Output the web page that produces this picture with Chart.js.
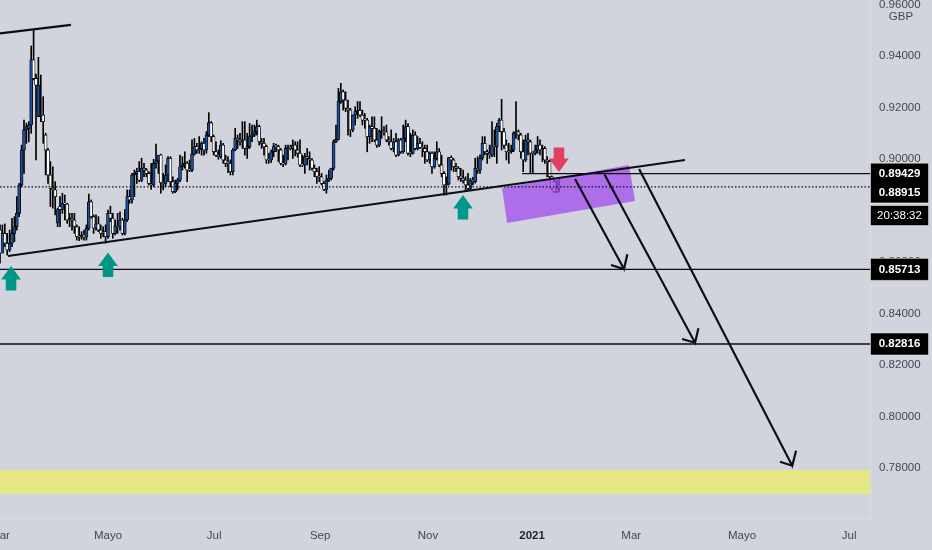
<!DOCTYPE html>
<html>
<head>
<meta charset="utf-8">
<title>GBP</title>
<script src="https://cdn.jsdelivr.net/npm/chart.js@4/dist/chart.umd.min.js"></script>
<style>
  html, body { margin: 0; padding: 0; background: #d1d4dc; overflow: hidden; }
  canvas { display: block; }
</style>
</head>
<body>
<canvas id="priceChart" width="932" height="550"></canvas>
<script>
// Daily candles, one value per bar
const opens = [
  .8724,.8634,.8711,.8673,.8647,.8673,.8711,.8737,.8789,.8899,
  .9035,.9113,.9119,.9132,.9385,.9313,.9164,.9164,.9171,.9093,
  .9035,.8938,.8886,.8880,.8752,.8815,.8804,.8828,.8825,.8763,
  .8770,.8763,.8737,.8698,.8696,.8705,.8696,.8731,.8834,.8776,
  .8731,.8748,.8724,.8711,.8718,.8698,.8789,.8770,.8711,.8740,
  .8737,.8763,.8711,.8763,.8854,.8841,.8938,.8944,.8951,.8918,
  .8964,.8957,.8944,.8905,.8899,.8983,.8993,.9015,.8908,.8905,
  .8938,.9003,.8912,.8873,.8905,.8918,.8970,.8977,.8983,.8957,
  .8957,.9019,.9048,.9035,.9041,.9061,.9035,.9093,.9141,.9087,
  .9028,.9015,.9009,.9054,.8996,.8983,.8983,.8951,.9035,.9080,
  .9074,.9067,.9074,.9041,.9048,.9087,.9093,.9106,.9126,.9067,
  .9061,.9048,.8996,.8996,.9028,.9048,.9048,.9035,.8983,.8981,
  .9041,.9045,.9041,.9054,.9035,.9022,.8977,.8977,.9009,.9002,
  .8996,.8964,.8951,.8931,.8931,.8905,.8882,.8918,.8925,.8964,
  .9067,.9076,.9223,.9261,.9229,.9197,.9190,.9113,.9171,.9184,
  .9188,.9171,.9151,.9151,.9087,.9126,.9119,.9074,.9054,.9106,
  .9109,.9106,.9074,.9067,.9041,.9067,.9015,.9074,.9028,.9080,
  .9126,.9022,.9022,.9093,.9041,.9061,.9045,.9041,.9028,.8996,
  .9022,.8970,.9002,.9028,.8977,.8944,.8899,.8903,.9006,.8996,
  .8970,.8964,.8934,.8925,.8918,.8899,.8886,.8918,.8912,.8964,
  .8957,.9003,.9061,.9028,.9022,.9016,.9054,.9048,.9126,.9151,
  .9106,.9054,.9028,.9028,.9035,.9100,.9106,.9093,.9028,.8996,
  .9074,.9067,.9022,.9022,.9035,.9054,.9035,.9041,.8996,.8990,
  .8931,.8912,.8880,.8893
];
const highs = [
  .8744,.8744,.8748,.8711,.8724,.8770,.8776,.8854,.8905,.9054,
  .9151,.9139,.9145,.9439,.9504,.9330,.9395,.9326,.9242,.9100,
  .9041,.8990,.8970,.8912,.8809,.8854,.8867,.8860,.8828,.8789,
  .8789,.8789,.8744,.8737,.8718,.8724,.8744,.8864,.8841,.8783,
  .8783,.8776,.8744,.8737,.8744,.8802,.8817,.8789,.8763,.8789,
  .8795,.8770,.8804,.8880,.8880,.8944,.8957,.8964,.8990,.9003,
  .8983,.8964,.8951,.8983,.8999,.9058,.9015,.9019,.8944,.8977,
  .9009,.9009,.8931,.8918,.8925,.9015,.9009,.9028,.8990,.8996,
  .9074,.9080,.9061,.9087,.9067,.9080,.9106,.9180,.9145,.9093,
  .9067,.9035,.9071,.9061,.9015,.9009,.8996,.9041,.9119,.9093,
  .9100,.9145,.9145,.9100,.9138,.9132,.9132,.9151,.9132,.9080,
  .9080,.9054,.9022,.9035,.9061,.9058,.9054,.9041,.9015,.9054,
  .9054,.9054,.9074,.9067,.9067,.9074,.9015,.9022,.9041,.9028,
  .9002,.8977,.8964,.8970,.8944,.8912,.8938,.8957,.8964,.9074,
  .9132,.9274,.9294,.9268,.9261,.9229,.9197,.9171,.9203,.9223,
  .9223,.9190,.9177,.9158,.9132,.9164,.9164,.9119,.9113,.9164,
  .9126,.9132,.9087,.9113,.9080,.9100,.9080,.9080,.9132,.9151,
  .9138,.9100,.9113,.9106,.9087,.9080,.9067,.9054,.9054,.9028,
  .9028,.9028,.9067,.9041,.9015,.8951,.8931,.9006,.9012,.9002,
  .8983,.8970,.8964,.8957,.8931,.8944,.8925,.8929,.9003,.9009,
  .9016,.9087,.9087,.9035,.9054,.9145,.9113,.9139,.9158,.9232,
  .9119,.9074,.9061,.9054,.9106,.9223,.9113,.9100,.9074,.9093,
  .9100,.9074,.9028,.9054,.9087,.9074,.9054,.9048,.9009,.8996,
  .8934,.8921,.8917,.8925
];
const lows = [
  .8595,.8660,.8660,.8627,.8640,.8660,.8679,.8724,.8776,.8892,
  .8944,.9061,.9067,.9100,.9307,.8996,.9164,.9145,.9061,.8938,
  .8905,.8815,.8809,.8783,.8737,.8737,.8789,.8763,.8750,.8737,
  .8724,.8711,.8685,.8683,.8688,.8685,.8685,.8724,.8770,.8711,
  .8724,.8718,.8692,.8698,.8673,.8692,.8757,.8692,.8705,.8711,
  .8724,.8705,.8705,.8757,.8828,.8828,.8854,.8905,.8912,.8912,
  .8931,.8931,.8899,.8882,.8892,.8964,.8944,.8867,.8880,.8892,
  .8912,.8892,.8867,.8869,.8880,.8912,.8957,.8964,.8912,.8951,
  .8951,.9015,.9022,.9022,.9015,.9015,.9022,.9087,.9067,.9015,
  .9009,.8999,.9003,.8983,.8970,.8947,.8938,.8938,.9032,.9041,
  .9054,.9041,.9015,.9002,.9041,.9067,.9087,.9093,.9054,.9041,
  .9015,.8983,.8983,.8986,.9009,.9028,.8990,.8977,.8970,.8977,
  .8996,.9035,.9002,.9012,.9007,.8970,.8970,.8944,.8977,.8957,
  .8957,.8931,.8905,.8912,.8899,.8877,.8867,.8912,.8918,.8957,
  .9063,.9074,.9216,.9190,.9184,.9093,.9087,.9106,.9132,.9158,
  .9164,.9132,.9119,.9028,.9061,.9067,.9067,.9045,.9048,.9080,
  .9093,.9067,.9054,.9035,.9028,.9009,.9012,.9022,.9022,.9067,
  .9015,.9009,.9019,.9035,.9035,.9041,.9009,.8983,.8990,.8983,
  .8944,.8964,.8996,.8970,.8931,.8860,.8860,.8899,.8957,.8951,
  .8951,.8918,.8912,.8906,.8873,.8880,.8880,.8899,.8906,.8944,
  .8944,.8996,.9016,.8983,.9003,.9009,.9009,.8983,.9106,.9035,
  .9041,.8996,.8983,.9022,.9028,.9080,.9074,.9003,.8951,.8990,
  .9016,.8947,.8944,.9016,.9022,.9016,.8990,.8983,.8931,.8918,
  .8880,.8869,.8869,.8872
];
const closes = [
  .8634,.8711,.8673,.8647,.8673,.8711,.8737,.8789,.8899,.9035,
  .9113,.9126,.9132,.9385,.9313,.9287,.9287,.9171,.9145,.9035,
  .8938,.8886,.8880,.8854,.8804,.8804,.8828,.8825,.8763,.8770,
  .8763,.8737,.8698,.8696,.8705,.8696,.8731,.8834,.8776,.8731,
  .8748,.8724,.8711,.8718,.8698,.8789,.8770,.8711,.8740,.8737,
  .8763,.8711,.8763,.8854,.8841,.8938,.8944,.8951,.8918,.8964,
  .8957,.8944,.8905,.8899,.8983,.8993,.9015,.8908,.8905,.8938,
  .9003,.8912,.8873,.8905,.8918,.8970,.8977,.8983,.8957,.8957,
  .9019,.9048,.9035,.9041,.9061,.9035,.9093,.9141,.9087,.9028,
  .9015,.9009,.9054,.8996,.8983,.8983,.8951,.9035,.9080,.9074,
  .9067,.9074,.9041,.9048,.9087,.9093,.9106,.9126,.9067,.9061,
  .9048,.8996,.8996,.9028,.9048,.9048,.9035,.8983,.8981,.9041,
  .9045,.9041,.9054,.9035,.9022,.8977,.8977,.9009,.9002,.8996,
  .8964,.8951,.8931,.8931,.8905,.8882,.8918,.8925,.8964,.9067,
  .9076,.9223,.9261,.9229,.9197,.9190,.9113,.9171,.9184,.9188,
  .9171,.9151,.9151,.9087,.9126,.9119,.9074,.9054,.9106,.9109,
  .9106,.9074,.9067,.9041,.9067,.9015,.9074,.9028,.9080,.9126,
  .9022,.9022,.9093,.9041,.9061,.9045,.9041,.9028,.8996,.9022,
  .8970,.9002,.9028,.8977,.8944,.8899,.8903,.9006,.8996,.8970,
  .8964,.8931,.8925,.8918,.8899,.8886,.8918,.8912,.8964,.8957,
  .9003,.9061,.9028,.9022,.9016,.9054,.9048,.9126,.9151,.9106,
  .9054,.9028,.9028,.9035,.9100,.9106,.9093,.9028,.8996,.9074,
  .9067,.9022,.9022,.9035,.9054,.9035,.9041,.8996,.8990,.8931,
  .8886,.8873,.8876,.88915
];

// Axis ticks
const xTickBars = [0, 45, 89.2, 133.4, 178.3, 221.7, 263, 309.2, 353.8];
const xTickLabels = ['Mar', 'Mayo', 'Jul', 'Sep', 'Nov', '2021', 'Mar', 'Mayo', 'Jul'];
const yTickValues = [0.78, 0.80, 0.82, 0.84, 0.86, 0.88, 0.90, 0.92, 0.94, 0.96];

// Drawn levels and lines, in bars and prices
const resistanceBars = [0, 29.6];
const resistancePrices = [0.9488, 0.9521];
const supportBars = [3.33, 285.4];
const supportPrices = [0.86233, 0.89961];
const levelShort = 0.89429;
const levelShortFromBar = 217.5;
const lastPrice = 0.88915;
const targetLevels = [0.85713, 0.82816];
const lastBar = 362.5;

const arrow1Bars = [239.6, 260, 261.4, 260, 254.6];
const arrow1Prices = [0.89223, 0.85728, 0.86299, 0.85728, 0.85883];
const arrow2Bars = [251.9, 289.6, 291, 289.6, 284.2];
const arrow2Prices = [0.89398, 0.82866, 0.83425, 0.82866, 0.8301];
const arrow3Bars = [266.3, 330.1, 331.7, 330.1, 325];
const arrow3Prices = [0.89612, 0.78089, 0.78672, 0.78089, 0.78245];

const zoneBars = [209.2, 262.1, 264.6, 211.3, 209.2];
const zonePrices = [0.88874, 0.89767, 0.88369, 0.87515, 0.88874];
const bandPrices = [0.7792, 0.7699];

const upMarkerBars = [4.6, 45, 192.9];
const upMarkerPrices = [0.85845, 0.86369, 0.88602];
const downMarkerBars = [232.9];
const downMarkerPrices = [0.89495];

// Right axis tags
const tagLabels = ['0.89429', '0.88915', '0.85713', '0.82816'];
const countdownLabel = '20:38:32';
const currencyLabel = 'GBP';

const BG = '#d1d4dc';
const INK = '#0c0e14';
const AXIS_TEXT = '#434651';
const LABEL_FONT = '"Liberation Sans", sans-serif';
const LABEL_SIZE = 11.5;

function linePoints(xs, ys) {
    return xs.map((x, i) => ({ x: x, y: ys[i] }));
}

function lineSet(points, width, dash) {
    return {
        type: 'line',
        data: points,
        borderColor: INK,
        borderWidth: width,
        borderDash: dash || [],
        pointRadius: 0,
        tension: 0,
        fill: false,
        order: 2
    };
}

function shapeSet(points, color, order) {
    return {
        type: 'line',
        data: points,
        borderWidth: 0,
        borderColor: 'transparent',
        backgroundColor: color,
        pointRadius: 0,
        tension: 0,
        fill: 'shape',
        order: order
    };
}

// Block arrow standing on its tip, dir = 1 points up, -1 points down
function markerPoints(bar, price, dir) {
    const head = 0.00524 * dir;
    const tail = 0.00951 * dir;
    const wing = 4.1;
    const stem = 2.2;
    return [
        { x: bar, y: price },
        { x: bar + wing, y: price - head },
        { x: bar + stem, y: price - head },
        { x: bar + stem, y: price - tail },
        { x: bar - stem, y: price - tail },
        { x: bar - stem, y: price - head },
        { x: bar - wing, y: price - head },
        { x: bar, y: price }
    ];
}

// Tags on the price axis, painted over the ticks
const axisTags = {
    id: 'axisTags',
    afterDraw(chart) {
        const ctx = chart.ctx;
        const y = chart.scales.y;
        const left = 870.5;
        const right = 928.5;
        const textX = 899.5;

        ctx.save();
        ctx.fillStyle = BG;
        ctx.fillRect(left + 1, 8, 61, 16);
        ctx.fillStyle = AXIS_TEXT;
        ctx.font = LABEL_SIZE + 'px ' + LABEL_FONT;
        ctx.textAlign = 'center';
        ctx.textBaseline = 'middle';
        ctx.fillText(currencyLabel, 901, 16.5);

        const box = (top, bottom) => {
            ctx.fillStyle = '#000000';
            ctx.fillRect(left, top, right - left, bottom - top);
            ctx.strokeStyle = 'rgba(255,255,255,0.45)';
            ctx.lineWidth = 1;
            ctx.strokeRect(left, top, right - left, bottom - top);
        };
        const label = (text, centre) => {
            ctx.fillStyle = '#ffffff';
            ctx.fillText(text, textX, centre);
        };

        const shortY = y.getPixelForValue(levelShort);
        const lastY = y.getPixelForValue(lastPrice) + 6;
        box(shortY - 10.5, lastY + 10);
        box(205.5, 225.5);
        box(y.getPixelForValue(targetLevels[0]) - 11, y.getPixelForValue(targetLevels[0]) + 11);
        box(y.getPixelForValue(targetLevels[1]) - 11, y.getPixelForValue(targetLevels[1]) + 11);

        ctx.font = 'bold ' + LABEL_SIZE + 'px ' + LABEL_FONT;
        label(tagLabels[0], shortY);
        label(tagLabels[1], lastY);
        label(tagLabels[2], y.getPixelForValue(targetLevels[0]));
        label(tagLabels[3], y.getPixelForValue(targetLevels[1]));
        ctx.font = LABEL_SIZE + 'px ' + LABEL_FONT;
        label(countdownLabel, 215.5);
        ctx.restore();
    }
};

const barIndex = closes.map((_, i) => i);
const wickData = barIndex.map(i => ({ x: i, y: [lows[i], highs[i]] }));
const bodyData = barIndex.map(i => ({ x: i, y: [opens[i], closes[i]] }));
const bodyColors = barIndex.map(i => (closes[i] > opens[i] ? '#1b4f9c' : '#ffffff'));

const datasets = [
    shapeSet(linePoints([0, lastBar, lastBar, 0, 0],
        [bandPrices[0], bandPrices[0], bandPrices[1], bandPrices[1], bandPrices[0]]), '#e4e782', 9),
    {
        type: 'bar',
        data: wickData,
        backgroundColor: '#000000',
        barThickness: 1,
        order: 8
    },
    {
        type: 'bar',
        data: bodyData,
        backgroundColor: bodyColors,
        borderColor: '#000000',
        borderWidth: 0.8,
        borderSkipped: false,
        barThickness: 3,
        minBarLength: 1,
        order: 7
    },
    shapeSet(linePoints(zoneBars, zonePrices), 'rgba(162, 76, 238, 0.75)', 6),
    lineSet(linePoints([0, lastBar], [lastPrice, lastPrice]), 1.2, [1.5, 2]),
    lineSet(linePoints([levelShortFromBar, lastBar], [levelShort, levelShort]), 1.3),
    lineSet(linePoints([0, lastBar], [targetLevels[0], targetLevels[0]]), 1.3),
    lineSet(linePoints([0, lastBar], [targetLevels[1], targetLevels[1]]), 1.3),
    lineSet(linePoints(resistanceBars, resistancePrices), 2.2),
    lineSet(linePoints(supportBars, supportPrices), 2.2),
    lineSet(linePoints(arrow1Bars, arrow1Prices), 2.2),
    lineSet(linePoints(arrow2Bars, arrow2Prices), 2.2),
    lineSet(linePoints(arrow3Bars, arrow3Prices), 2.2)
];
upMarkerBars.forEach((bar, i) => {
    datasets.push(shapeSet(markerPoints(bar, upMarkerPrices[i], 1), '#009688', 1));
});
downMarkerBars.forEach((bar, i) => {
    datasets.push(shapeSet(markerPoints(bar, downMarkerPrices[i], -1), '#e0405f', 1));
});

new Chart(document.getElementById('priceChart').getContext('2d'), {
    type: 'bar',
    data: { datasets: datasets },
    plugins: [axisTags],
    options: {
        responsive: false,
        devicePixelRatio: 1,
        animation: false,
        layout: { padding: 0 },
        datasets: { bar: { grouped: false } },
        plugins: { legend: { display: false }, tooltip: { enabled: false } },
        scales: {
            x: {
                type: 'linear',
                offset: false,
                min: 0,
                max: lastBar,
                grid: { display: false, drawTicks: false },
                border: { display: true, color: 'rgba(255,255,255,0.22)' },
                afterBuildTicks(scale) {
                    scale.ticks = xTickBars.map(v => ({ value: v }));
                },
                afterFit(scale) {
                    scale.height = 32;
                    scale.paddingLeft = 0;
                    scale.paddingRight = 0;
                },
                ticks: {
                    autoSkip: false,
                    maxRotation: 0,
                    padding: 11,
                    color: ctx => (xTickLabels[ctx.index] === '2021' ? '#1e222d' : AXIS_TEXT),
                    font: ctx => ({
                        family: LABEL_FONT,
                        size: LABEL_SIZE,
                        weight: xTickLabels[ctx.index] === '2021' ? 'bold' : 'normal'
                    }),
                    callback: (value, index) => xTickLabels[index]
                }
            },
            y: {
                position: 'right',
                min: 0.76058,
                max: 0.96175,
                grid: { display: false, drawTicks: false },
                border: { display: true, color: 'rgba(255,255,255,0.22)' },
                afterBuildTicks(scale) {
                    scale.ticks = yTickValues.map(v => ({ value: v }));
                },
                afterFit(scale) {
                    scale.width = 62;
                    scale.paddingTop = 0;
                    scale.paddingBottom = 0;
                },
                ticks: {
                    padding: 9,
                    color: AXIS_TEXT,
                    font: { family: LABEL_FONT, size: LABEL_SIZE },
                    callback: value => value.toFixed(5)
                }
            }
        }
    }
});
</script>
</body>
</html>
